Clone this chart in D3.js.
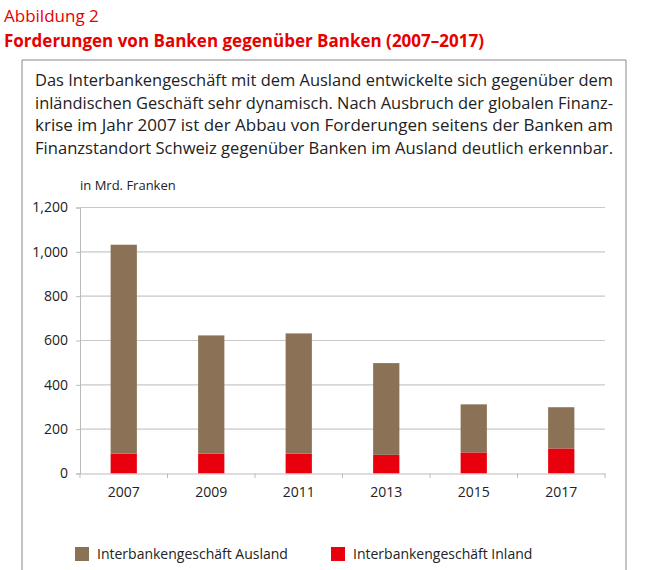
<!DOCTYPE html>
<html lang="de">
<head>
<meta charset="UTF-8">
<style>
  body { margin: 0; background: #fff; font-family: "Open Sans", sans-serif; }
  svg text { font-family: "Open Sans", sans-serif; }
</style>
</head>
<body>
<svg id="chart" width="651" height="570"></svg>
<script src="https://d3js.org/d3.v7.min.js"></script>
<script>
  // Data (Mrd. Franken)
  const years = ["2007", "2009", "2011", "2013", "2015", "2017"];
  const inland = [90, 90, 90, 84, 95, 113];
  const total = [1032, 623, 632, 498, 312, 299];
  const ausland = total.map((t, i) => t - inland[i]);
  const yTicks = [0, 200, 400, 600, 800, 1000, 1200];
  const seriesNames = ["Interbankengeschäft Ausland", "Interbankengeschäft Inland"];
  const colors = ["#8b7257", "#e8000d"];

  const svg = d3.select("#chart");
  const red = "#e60000";

  svg.append("text").attr("x", 4).attr("y", 22).attr("fill", red)
     .style("font-size", "17px").text("Abbildung 2");
  svg.append("text").attr("x", 4).attr("y", 47).attr("fill", red)
     .style("font-size", "17px").style("font-weight", "bold")
     .text("Forderungen von Banken gegenüber Banken (2007–2017)");

  // frame
  svg.append("path").attr("d", "M22,575 V60 H626 V575")
     .attr("fill", "none").attr("stroke", "#888").attr("stroke-width", 1);

  const para = [
    "Das Interbankengeschäft mit dem Ausland entwickelte sich gegenüber dem",
    "inländischen Geschäft sehr dynamisch. Nach Ausbruch der globalen Finanz-",
    "krise im Jahr 2007 ist der Abbau von Forderungen seitens der Banken am",
    "Finanzstandort Schweiz gegenüber Banken im Ausland deutlich erkennbar."
  ];
  svg.append("g").selectAll("text").data(para).join("text")
     .attr("x", 35).attr("y", (d, i) => 86 + i * 22.5)
     .attr("fill", "#222").style("font-size", "15.6px")
     .attr("textLength", 578).attr("lengthAdjust", "spacingAndGlyphs")
     .text(d => d);

  svg.append("text").attr("x", 80).attr("y", 190).attr("fill", "#222")
     .style("font-size", "13px").text("in Mrd. Franken");

  const x = d3.scaleBand().domain(years).range([80, 605]).paddingInner(0.7).paddingOuter(0.35);
  const y = d3.scaleLinear().domain([0, 1200]).range([473.5, 207.5]);

  // grid
  svg.append("g").selectAll("line").data(yTicks.slice(1)).join("line")
     .attr("x1", 80).attr("x2", 605).attr("y1", d => y(d)).attr("y2", d => y(d))
     .attr("stroke", "#c8c8c8").attr("stroke-width", 1.2);

  const yAxis = svg.append("g").attr("transform", "translate(80,0)")
     .call(d3.axisLeft(y).tickValues(yTicks).tickSize(4).tickPadding(8));
  yAxis.select(".domain").attr("stroke", "#bbb");
  yAxis.selectAll(".tick line").attr("stroke", "#bbb");
  yAxis.selectAll("text").style("font-size", "14px").attr("fill", "#222");

  const stacks = d3.stack().keys([0, 1])
     .value((d, k) => k === 0 ? inland[d] : ausland[d])(d3.range(years.length));
  const fills = [colors[1], colors[0]];
  svg.append("g").selectAll("g").data(stacks).join("g")
     .attr("fill", (d, i) => fills[i])
     .selectAll("rect").data(d => d).join("rect")
     .attr("x", (d, i) => x(years[i])).attr("width", x.bandwidth())
     .attr("y", d => y(d[1])).attr("height", d => y(d[0]) - y(d[1]));

  const xAxis = svg.append("g").attr("transform", "translate(0,473.5)")
     .call(d3.axisBottom(x).tickSize(0).tickPadding(14));
  xAxis.select(".domain").attr("stroke", "#bbb").attr("stroke-width", 1.2);
  xAxis.selectAll("text").style("font-size", "14px").attr("fill", "#222");
  // band-edge ticks
  const step = x.step();
  svg.append("g").selectAll("line").data(d3.range(years.length + 1)).join("line")
     .attr("x1", i => 80 + i * step).attr("x2", i => 80 + i * step)
     .attr("y1", 473.5).attr("y2", 478).attr("stroke", "#bbb");

  // legend
  const leg = svg.append("g").selectAll("g").data(seriesNames).join("g")
     .attr("transform", (d, i) => `translate(${[75, 331][i]},547)`);
  leg.append("rect").attr("width", 14).attr("height", 14).attr("fill", (d, i) => colors[i]);
  leg.append("text").attr("x", 22).attr("y", 12).style("font-size", "14px")
     .attr("fill", "#222").text(d => d);
</script>
</body>
</html>
